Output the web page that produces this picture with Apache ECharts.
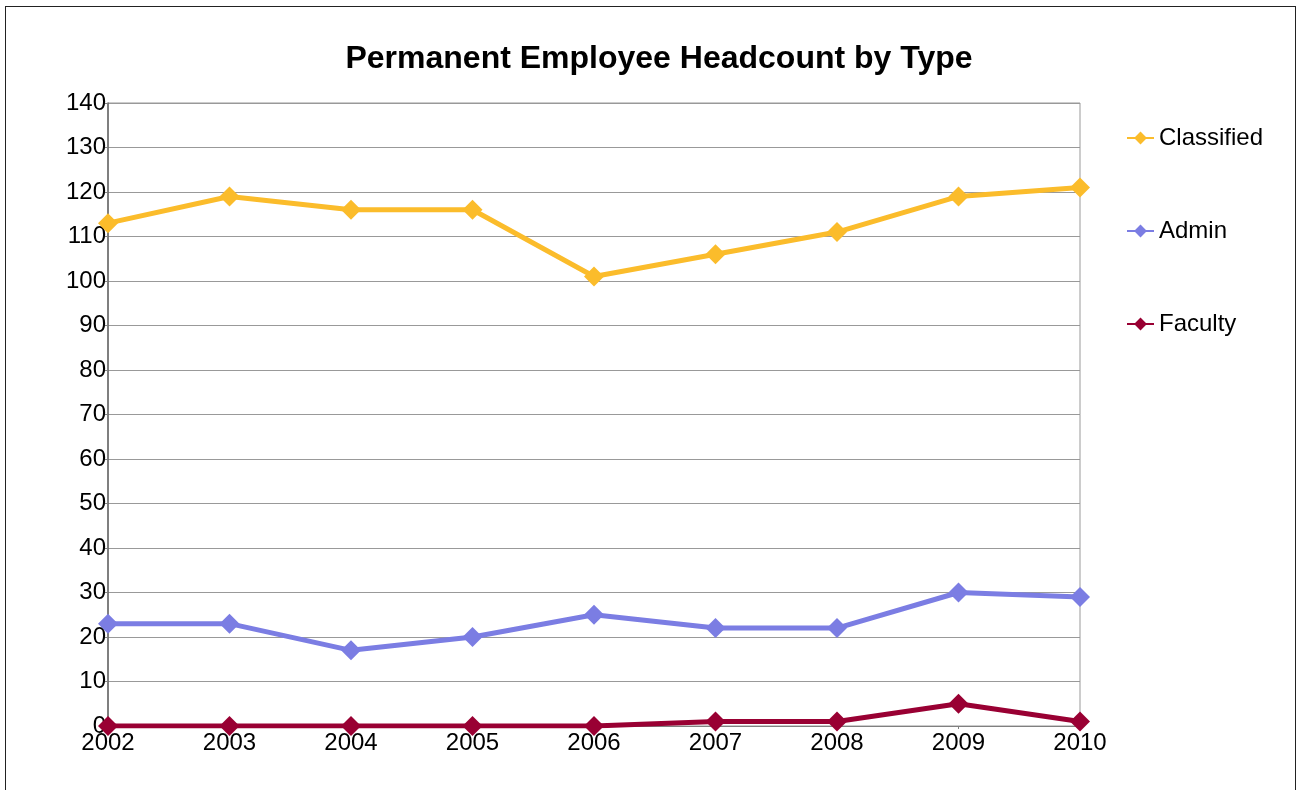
<!DOCTYPE html>
<html>
<head>
<meta charset="utf-8">
<script src="https://cdn.jsdelivr.net/npm/echarts@6/dist/echarts.min.js"></script>
<style>
    body{margin:0;background:#fff;}
    #chart{width:1302px;height:790px;}
    .frame{position:absolute;left:5px;top:6px;width:1291px;height:800px;border:1.5px solid #222;box-sizing:border-box;pointer-events:none;}
</style>
</head>
<body>
<div id="chart"></div>
<div class="frame"></div>
<script>
    let years = ['2002', '2003', '2004', '2005', '2006', '2007', '2008', '2009', '2010']
    let classified = [113, 119, 116, 116, 101, 106, 111, 119, 121]
    let admin = [23, 23, 17, 20, 25, 22, 22, 30, 29]
    let faculty = [0, 0, 0, 0, 0, 1, 1, 5, 1]

    let font = 'Liberation Sans, Arial, sans-serif'

    function makeSeries(name, data, color) {
        return {
            name: name,
            type: 'line',
            data: data,
            symbol: 'diamond',
            symbolSize: 20,
            lineStyle: {width: 5, color: color},
            itemStyle: {color: color},
            emphasis: {disabled: true},
        }
    }

    let option = {
        animation: false,
        title: {
            text: 'Permanent Employee Headcount by Type',
            left: 654,
            textAlign: 'center',
            top: 38,
            textStyle: {fontFamily: font, fontSize: 32, fontWeight: 'bold', color: '#000'},
        },
        legend: {
            orient: 'vertical',
            left: 1121,
            top: 121,
            itemWidth: 27,
            itemHeight: 16,
            itemGap: 69,
            textStyle: {fontFamily: font, fontSize: 24, color: '#000'},
            data: ['Classified', 'Admin', 'Faculty'],
        },
        grid: {
            left: 108,
            right: 222,
            top: 103,
            bottom: 64,
            show: true,
            borderColor: '#999',
            borderWidth: 1,
        },
        xAxis: {
            type: 'category',
            data: years,
            boundaryGap: false,
            axisLine: {lineStyle: {color: '#808080', width: 1}},
            axisTick: {show: true, length: 3, inside: false, lineStyle: {color: '#808080'}},
            axisLabel: {fontFamily: font, fontSize: 24, color: '#000', margin: 5},
            splitLine: {show: false},
        },
        yAxis: {
            type: 'value',
            min: 0,
            max: 140,
            interval: 10,
            axisLine: {show: true, lineStyle: {color: '#666', width: 1.5}},
            axisTick: {show: true, length: 3, lineStyle: {color: '#808080'}},
            axisLabel: {fontFamily: font, fontSize: 24, color: '#000', margin: 2},
            splitLine: {lineStyle: {color: '#999', width: 1}},
        },
        series: [
            makeSeries('Classified', classified, '#fbbc2b'),
            makeSeries('Admin', admin, '#7b7de3'),
            makeSeries('Faculty', faculty, '#990033'),
        ],
    }

    let myChart = echarts.init(document.getElementById('chart'))
    myChart.setOption(option)
</script>
</body>
</html>
